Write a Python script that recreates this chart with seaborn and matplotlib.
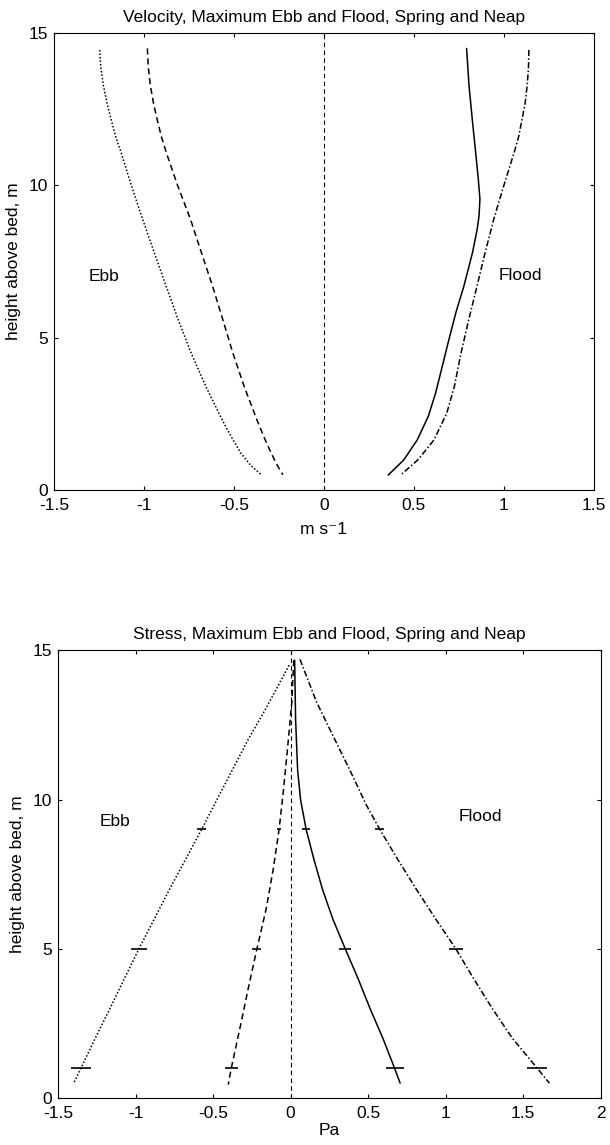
import matplotlib
matplotlib.use("Agg")
import matplotlib.pyplot as plt
import seaborn as sns
from matplotlib.ticker import FuncFormatter

# --- velocity profiles (m s-1) ---
VEL_EBB_SPRING_Z = [14.45, 13.9, 13.3, 12.7, 12.2, 11.6, 11.1, 10.0, 8.9, 7.8, 6.7, 5.6, 4.5, 3.4, 2.3, 1.7, 1.2, 0.8, 0.5]
VEL_EBB_SPRING_U = [-1.246, -1.240, -1.226, -1.205, -1.184, -1.157, -1.128, -1.07, -1.008, -0.943, -0.877, -0.810, -0.738, -0.656, -0.565, -0.510, -0.460, -0.405, -0.348]
VEL_EBB_NEAP_Z = [14.5, 13.9, 13.3, 12.7, 12.2, 11.6, 11.1, 10.0, 8.9, 7.8, 6.7, 5.6, 4.5, 3.4, 2.3, 1.7, 1.2, 0.8, 0.5]
VEL_EBB_NEAP_U = [-0.981, -0.976, -0.965, -0.947, -0.928, -0.903, -0.877, -0.813, -0.742, -0.681, -0.619, -0.562, -0.506, -0.443, -0.372, -0.330, -0.292, -0.258, -0.228]
VEL_FLOOD_NEAP_Z = [14.5, 13.3, 12.2, 11.1, 10.2, 9.56, 9.0, 8.57, 7.8, 6.7, 5.82, 4.95, 4.07, 3.19, 2.42, 1.65, 0.99, 0.49]
VEL_FLOOD_NEAP_U = [0.793, 0.806, 0.824, 0.843, 0.858, 0.867, 0.862, 0.852, 0.826, 0.778, 0.733, 0.695, 0.658, 0.621, 0.580, 0.519, 0.444, 0.357]
VEL_FLOOD_SPRING_Z = [14.45, 13.9, 13.3, 12.7, 12.2, 11.6, 11.1, 10.0, 8.9, 7.8, 6.7, 5.6, 4.5, 3.4, 2.53, 1.65, 0.99, 0.49]
VEL_FLOOD_SPRING_U = [1.139, 1.137, 1.130, 1.118, 1.102, 1.082, 1.058, 1.0, 0.944, 0.896, 0.851, 0.805, 0.762, 0.725, 0.683, 0.612, 0.522, 0.426]

# --- stress profiles (Pa) ---
STR_EBB_SPRING_Z = [14.5, 13.0, 12.0, 10.5, 9.0, 7.0, 5.0, 3.0, 2.0, 1.0, 0.5]
STR_EBB_SPRING_T = [-0.01, -0.165, -0.275, -0.425, -0.574, -0.78, -0.978, -1.165, -1.26, -1.352, -1.398]
STR_EBB_NEAP_Z = [14.67, 13.27, 11.6, 10.13, 8.98, 7.67, 6.33, 4.96, 3.75, 2.41, 0.99, 0.45]
STR_EBB_NEAP_T = [0.02, 0.008, -0.022, -0.050, -0.075, -0.112, -0.158, -0.219, -0.270, -0.324, -0.383, -0.402]
STR_FLOOD_NEAP_Z = [14.67, 12.7, 11.0, 10.0, 9.0, 8.0, 7.0, 6.0, 5.0, 4.0, 3.0, 2.0, 1.0, 0.5]
STR_FLOOD_NEAP_T = [0.026, 0.032, 0.045, 0.064, 0.100, 0.150, 0.205, 0.272, 0.352, 0.435, 0.512, 0.595, 0.670, 0.706]
STR_FLOOD_SPRING_Z = [14.7, 13.27, 12.15, 11.03, 9.8, 9.0, 8.0, 7.0, 6.0, 5.0, 4.0, 3.0, 2.0, 1.0, 0.5]
STR_FLOOD_SPRING_T = [0.06, 0.167, 0.272, 0.378, 0.49, 0.575, 0.690, 0.810, 0.935, 1.065, 1.18, 1.30, 1.43, 1.59, 1.668]

# error bars at 9, 5 and 1 m
ERR_Z = [9, 5, 1]
ERR_EBB_SPRING = [-0.574, -0.978, -1.35]
ERR_EBB_SPRING_HW = [0.03, 0.05, 0.065]
ERR_EBB_NEAP = [-0.075, -0.219, -0.383]
ERR_EBB_NEAP_HW = [0.012, 0.03, 0.042]
ERR_FLOOD_NEAP = [0.100, 0.352, 0.670]
ERR_FLOOD_NEAP_HW = [0.025, 0.04, 0.058]
ERR_FLOOD_SPRING = [0.575, 1.065, 1.59]
ERR_FLOOD_SPRING_HW = [0.03, 0.046, 0.064]

VEL_XTICKS = [-1.5, -1, -0.5, 0, 0.5, 1, 1.5]
STR_XTICKS = [-1.5, -1, -0.5, 0, 0.5, 1, 1.5, 2]
YTICKS = [0, 5, 10, 15]

VEL_LABEL_POS = {"Ebb": (-1.31, 7.0), "Flood": (0.97, 7.05)}
STR_LABEL_POS = {"Ebb": (-1.23, 9.25), "Flood": (1.08, 9.45)}

FS = 12.5
DOT = (0, (1, 1.3))
DASH = (0, (4, 2.5))
DASHDOT = (0, (4, 1.5, 1, 1.5))

sns.set_style("ticks", {
    "xtick.direction": "in", "ytick.direction": "in",
    "axes.edgecolor": "black", "xtick.color": "black", "ytick.color": "black",
    "text.color": "black", "axes.labelcolor": "black",
})
plt.rcParams["font.family"] = ["Liberation Sans", "DejaVu Sans"]
plt.rcParams["font.size"] = FS
plt.rcParams["xtick.top"] = True
plt.rcParams["ytick.right"] = True
plt.rcParams["xtick.major.size"] = 3
plt.rcParams["ytick.major.size"] = 3
plt.rcParams["xtick.major.pad"] = 6
plt.rcParams["ytick.major.pad"] = 4
plt.rcParams["axes.linewidth"] = 0.8

fig = plt.figure(figsize=(6.10, 11.45), dpi=100)
ax1 = fig.add_axes([0.0885, 0.572, 0.885, 0.399])
ax2 = fig.add_axes([0.095, 0.041, 0.890, 0.391])


def profile(ax, x, z, ls):
    sns.lineplot(x=x, y=z, sort=False, estimator=None, color="black",
                 linewidth=1.1, linestyle=ls, ax=ax)


fmt = FuncFormatter(lambda v, _: f"{v:g}")

# velocity panel
profile(ax1, VEL_EBB_SPRING_U, VEL_EBB_SPRING_Z, DOT)
profile(ax1, VEL_EBB_NEAP_U, VEL_EBB_NEAP_Z, DASH)
profile(ax1, VEL_FLOOD_NEAP_U, VEL_FLOOD_NEAP_Z, "-")
profile(ax1, VEL_FLOOD_SPRING_U, VEL_FLOOD_SPRING_Z, DASHDOT)
ax1.axvline(0, color="black", linewidth=0.8, linestyle=(0, (4, 3)))
ax1.set_xlim(-1.5, 1.5)
ax1.set_ylim(0, 15)
ax1.set_xticks(VEL_XTICKS)
ax1.set_yticks(YTICKS)
ax1.xaxis.set_major_formatter(fmt)
ax1.set_title("Velocity, Maximum Ebb and Flood, Spring and Neap", fontsize=FS, pad=8)
ax1.set_xlabel("m s\u207b1", labelpad=6)
ax1.set_ylabel("height above bed, m", labelpad=6)
for name, (tx, ty) in VEL_LABEL_POS.items():
    ax1.text(tx, ty, name, ha="left", va="center", fontsize=FS)

# stress panel
profile(ax2, STR_EBB_SPRING_T, STR_EBB_SPRING_Z, DOT)
profile(ax2, STR_EBB_NEAP_T, STR_EBB_NEAP_Z, DASH)
profile(ax2, STR_FLOOD_NEAP_T, STR_FLOOD_NEAP_Z, "-")
profile(ax2, STR_FLOOD_SPRING_T, STR_FLOOD_SPRING_Z, DASHDOT)
for xs, hw in [(ERR_EBB_SPRING, ERR_EBB_SPRING_HW), (ERR_EBB_NEAP, ERR_EBB_NEAP_HW),
               (ERR_FLOOD_NEAP, ERR_FLOOD_NEAP_HW), (ERR_FLOOD_SPRING, ERR_FLOOD_SPRING_HW)]:
    ax2.errorbar(xs, ERR_Z, xerr=hw, fmt="none", ecolor="black", elinewidth=1.2, capsize=0)
ax2.axvline(0, color="black", linewidth=0.8, linestyle=(0, (4, 3)))
ax2.set_xlim(-1.5, 2)
ax2.set_ylim(0, 15)
ax2.set_xticks(STR_XTICKS)
ax2.set_yticks(YTICKS)
ax2.xaxis.set_major_formatter(fmt)
ax2.set_title("Stress, Maximum Ebb and Flood, Spring and Neap", fontsize=FS, pad=8)
ax2.set_xlabel("Pa", labelpad=1)
ax2.set_ylabel("height above bed, m", labelpad=6)
for name, (tx, ty) in STR_LABEL_POS.items():
    ax2.text(tx, ty, name, ha="left", va="center", fontsize=FS)

fig.savefig("out.png", dpi=100)
